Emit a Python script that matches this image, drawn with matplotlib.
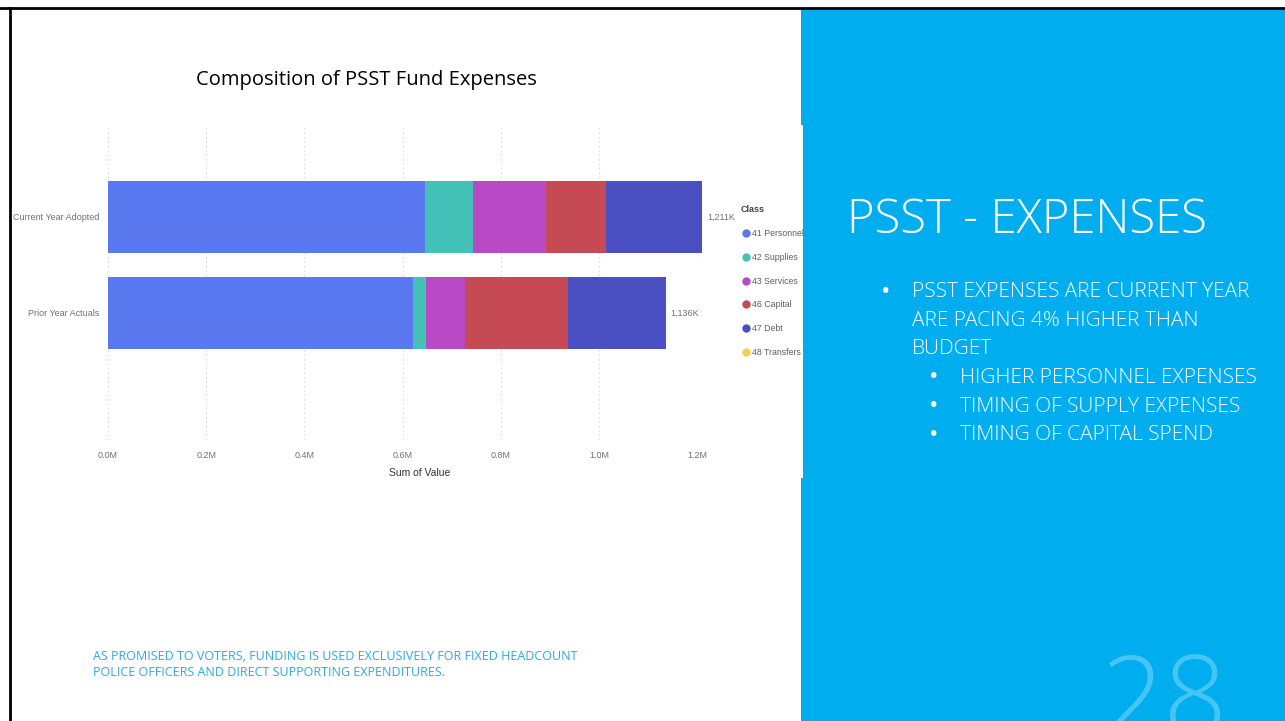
import numpy as np
import matplotlib.pyplot as plt
from matplotlib.lines import Line2D
from matplotlib.patches import Rectangle
from matplotlib.ticker import FuncFormatter

# expense composition, in thousands of dollars
periods = ["Current Year Adopted", "Prior Year Actuals"]
classes = ["41 Personnel", "42 Supplies", "43 Services", "46 Capital", "47 Debt", "48 Transfers"]
current_year = [646, 98, 149, 122, 196, 0]
prior_year = [622, 25, 81, 210, 198, 0]
colors = ["#5A78F0", "#45C2B8", "#B84AC8", "#C64A54", "#4A50C2", "#F2D04A"]
xticks = [0, 200, 400, 600, 800, 1000, 1200]

bullets = ["PSST EXPENSES ARE CURRENT YEAR", "ARE PACING 4% HIGHER THAN", "BUDGET"]
sub_bullets = ["HIGHER PERSONNEL EXPENSES", "TIMING OF SUPPLY EXPENSES", "TIMING OF CAPITAL SPEND"]
footnote = ["AS PROMISED TO VOTERS, FUNDING IS USED EXCLUSIVELY FOR FIXED HEADCOUNT",
            "POLICE OFFICERS AND DIRECT SUPPORTING EXPENDITURES."]

W, H = 1285, 721
NARROW = ["Liberation Sans", "DejaVu Sans"]
SLIDE = ["Open Sans", "DejaVu Sans"]
BLUE = "#00AEEF"

def fx(px):
    return px / W

def fy(py):
    return 1 - py / H

fig = plt.figure(figsize=(W / 100, H / 100), dpi=100)
fig.patch.set_facecolor("white")

# slide background: right panel and frame lines
fig.patches.append(Rectangle((fx(801), 0), 1 - fx(801), fy(9), transform=fig.transFigure,
                             facecolor=BLUE, edgecolor="none", zorder=0))
fig.patches.append(Rectangle((fx(801), fy(478)), fx(2), fy(125) - fy(478), transform=fig.transFigure,
                             facecolor="white", edgecolor="none", zorder=1))
fig.add_artist(Line2D([0, 1], [fy(8), fy(8)], transform=fig.transFigure, color="black", lw=2))
fig.add_artist(Line2D([fx(10), fx(10)], [0, fy(8)], transform=fig.transFigure, color="black", lw=2))

# stacked bar chart
ax = fig.add_axes([fx(108), fy(440), fx(697 - 108), fy(125) - fy(440)])
data = np.array([current_year, prior_year])
y = np.arange(len(periods))
left = np.zeros(len(periods))
for i, cls in enumerate(classes):
    ax.barh(y, data[:, i], left=left, height=0.75, color=colors[i], label=cls,
            clip_on=False, zorder=2)
    left += data[:, i]

for yi, total in zip(y, data.sum(axis=1)):
    ax.text(total + 10, yi, f"{total:,.0f}K", va="center", ha="left", fontsize=6.5,
            color="#707070", family=NARROW)

ax.set_xlim(0, 1200)
ax.set_ylim(2.323, -0.958)
ax.set_xticks(xticks)
ax.xaxis.set_major_formatter(FuncFormatter(lambda v, p: f"{v / 1000:.1f}M"))
ax.set_yticks(y)
ax.set_yticklabels(periods)
ax.tick_params(axis="both", length=0, labelsize=6.5, labelcolor="#707070")
ax.tick_params(axis="x", pad=8)
ax.tick_params(axis="y", pad=6)
for lab in ax.get_xticklabels() + ax.get_yticklabels():
    lab.set_family(NARROW)
ax.grid(axis="x", color="#cccccc", linestyle=(0, (1, 3)), lw=0.8, zorder=0)
ax.set_axisbelow(True)
for s in ax.spines.values():
    s.set_visible(False)
ax.set_xlabel("Sum of Value", fontsize=7.5, color="#333333", family=NARROW)
ax.xaxis.set_label_coords((420 - 108) / 589, -0.09)

handles = [Line2D([], [], marker="o", ls="none", markersize=5, color=c) for c in colors]
leg = fig.legend(handles, classes, loc="upper left", bbox_to_anchor=(fx(737), fy(202)),
                 frameon=False, title="Class", alignment="left", prop={"family": NARROW, "size": 6.3},
                 handletextpad=0.0, labelspacing=1.68, handlelength=1.3, borderaxespad=0)
leg.get_title().set_fontsize(6.5)
leg.get_title().set_fontweight("bold")
leg.get_title().set_color("#444444")
leg.get_title().set_family(NARROW)
for t in leg.get_texts():
    t.set_color("#606060")

fig.text(fx(366), fy(80), "Composition of PSST Fund Expenses", ha="center", va="center",
         fontsize=14.5, color="black", family=SLIDE)

# right panel text
fig.text(fx(847), fy(221), "PSST - EXPENSES", ha="left", va="center", fontsize=34,
         color="white", family=SLIDE, fontweight="light")
for i, line in enumerate(bullets):
    yy = fy(292 + 28.6 * i)
    if i == 0:
        fig.text(fx(881), yy, "\u2022", ha="left", va="center", fontsize=18, color="white", family=SLIDE)
    fig.text(fx(912), yy, line, ha="left", va="center", fontsize=15, color="white",
             family=SLIDE, fontweight="light")
for i, line in enumerate(sub_bullets):
    yy = fy(378 + 28.6 * i)
    fig.text(fx(929), yy, "\u2022", ha="left", va="center", fontsize=18, color="white", family=SLIDE)
    fig.text(fx(960), yy, line, ha="left", va="center", fontsize=15, color="white",
             family=SLIDE, fontweight="light")

fig.text(fx(1101), fy(735), "28", ha="left", va="baseline", fontsize=80, color="white",
         alpha=0.28, family=SLIDE, fontweight="light")

for i, line in enumerate(footnote):
    fig.text(fx(93), fy(657 + 16 * i), line, ha="left", va="center", fontsize=9,
             color="#2AAAE2", family=SLIDE)

fig.savefig("out.png", dpi=100)
